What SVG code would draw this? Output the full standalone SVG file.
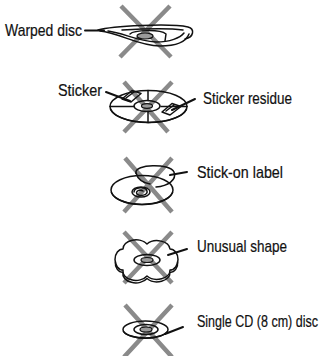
<svg xmlns="http://www.w3.org/2000/svg" width="331" height="356" viewBox="0 0 331 356">
  <style>
    .lbl { font-family: "Liberation Sans", Arial, sans-serif; font-size: 17px; fill: #111; stroke: #111; stroke-width: 0.2; }
    .x { stroke: #8a8a8a; stroke-width: 4.5; fill: none; }
    .ln { stroke: #111; stroke-width: 1.5; fill: none; stroke-linecap: round; stroke-linejoin: round; }
    .thick { stroke: #111; stroke-width: 2; fill: none; stroke-linecap: round; }
    .hub { fill: #9a9a9a; stroke: #111; stroke-width: 1.2; }
  </style>
  <rect width="331" height="356" fill="#fff"/>

  <!-- warped disc -->
  <g id="warped-disc">
    <path class="x" d="M121,6 L171,57 M170,6 L120,57"/>
    <path class="ln" d="M98,30 C112,26 170,23 188,27 C195,29 194,37 185,39"/>
    <path class="ln" d="M100,31 C120,33 138,46 160,46 C177,46 186,42 189,34"/>
    <path class="ln" d="M108,31 C124,33 136,41 156,42 C170,42 180,38 184,33"/>
    <path class="ln" d="M122,30 C140,29 168,28 183,30"/>
    <path class="ln" d="M130,34 C134,30 160,29 166,34 L165,41"/>
    <ellipse class="hub" cx="145" cy="36" rx="8" ry="3"/>
    <path class="thick" d="M85,30.5 L104,30.5"/>
    <text class="lbl" transform="translate(5,36) scale(0.75,1)" textLength="102.7" lengthAdjust="spacingAndGlyphs">Warped disc</text>
  </g>

  <!-- sticker disc -->
  <g id="sticker-disc">
    <path class="x" d="M124,82 L168,132 M172,82 L124,132"/>
    <ellipse class="ln" cx="148.5" cy="106.5" rx="38.5" ry="16"/>
    <path class="ln" d="M110.5,109 A38.5,16 0 0 0 186.5,109"/>
    <path class="ln" d="M148,90.5 L148,100.5 M148,111.5 L148,122.5 M110,106.5 L134,106.5 M161,106.5 L187,106.5"/>
    <ellipse class="ln" cx="147" cy="106" rx="13" ry="5.5"/>
    <ellipse class="hub" cx="147" cy="106" rx="5.5" ry="2.3"/>
    <path class="ln" d="M122,99 L132,90.5 L141,93.5 L131,102 Z M126,98 L134,92"/>
    <path class="ln" d="M162,112 L172,103.5 L181,106.5 L170,115 Z M166,111 L174,105"/>
    <path class="thick" d="M106,92 L130,101"/>
    <path class="thick" d="M172,110 L195,99"/>
    <text class="lbl" transform="translate(58,96) scale(0.75,1)" textLength="58.7" lengthAdjust="spacingAndGlyphs">Sticker</text>
    <text class="lbl" transform="translate(203,104) scale(0.75,1)" textLength="118.7" lengthAdjust="spacingAndGlyphs">Sticker residue</text>
  </g>

  <!-- stick-on label disc -->
  <g id="stick-on-label">
    <path class="x" d="M125,158 L172,212 M172,158 L124,212"/>
    <ellipse class="ln" cx="142" cy="190" rx="31" ry="14.5"/>
    <path class="ln" d="M111.5,192.5 A31,14.5 0 0 0 172.5,192.5"/>
    <path class="ln" d="M136,173 C134,164 170,163 174,172 C177,180 168,186 156,187"/>
    <path class="ln" d="M136,173 C138,180 144,183 150,184"/>
    <ellipse class="ln" cx="141" cy="192" rx="9" ry="5"/>
    <path class="ln" d="M134,192 C134,187 146,186 147,191 C148,195 140,197 137,194 C135,191 140,189 143,191"/>
    <path class="thick" d="M170,175 L187,172"/>
    <text class="lbl" transform="translate(197,178) scale(0.75,1)" textLength="114.7" lengthAdjust="spacingAndGlyphs">Stick-on label</text>
  </g>

  <!-- unusual shape disc -->
  <g id="unusual-shape">
    <path class="x" d="M124,232 L172,283 M172,232 L124,283"/>
    <path class="ln" d="M115.5,262 A8,9 0 0 0 123,272.5 A13,9 0 0 0 147,278.5 A13,9 0 0 0 170,272.5 A8,9 0 0 0 177.5,262"/>
    <path class="ln" d="M147,244 A13,9 0 0 1 170,249 A8,10.5 0 0 1 170,270 A13,9 0 0 1 147,276 A13,9 0 0 1 123,270 A8,10.5 0 0 1 123,249 A13,9 0 0 1 147,244 Z"/>
    <ellipse class="ln" cx="147" cy="260" rx="13" ry="5.5"/>
    <ellipse class="hub" cx="147" cy="260" rx="6" ry="2.5"/>
    <path class="thick" d="M168,255 L187,249"/>
    <text class="lbl" transform="translate(197,252) scale(0.75,1)" textLength="120" lengthAdjust="spacingAndGlyphs">Unusual shape</text>
  </g>

  <!-- single CD (8 cm) disc -->
  <g id="single-cd">
    <path class="x" d="M125,305 L172,357 M172,305 L124,357"/>
    <ellipse class="ln" cx="145.5" cy="329.5" rx="22.5" ry="8.5"/>
    <path class="ln" d="M123.5,331.5 A22.5,8.5 0 0 0 167.5,331.5"/>
    <ellipse class="ln" cx="146" cy="329.5" rx="12" ry="5"/>
    <ellipse class="hub" cx="146" cy="329.5" rx="6" ry="2.5"/>
    <path class="thick" d="M165,334 L183,327"/>
    <text class="lbl" transform="translate(197,327) scale(0.75,1)" textLength="161.3" lengthAdjust="spacingAndGlyphs">Single CD (8 cm) disc</text>
  </g>
</svg>
